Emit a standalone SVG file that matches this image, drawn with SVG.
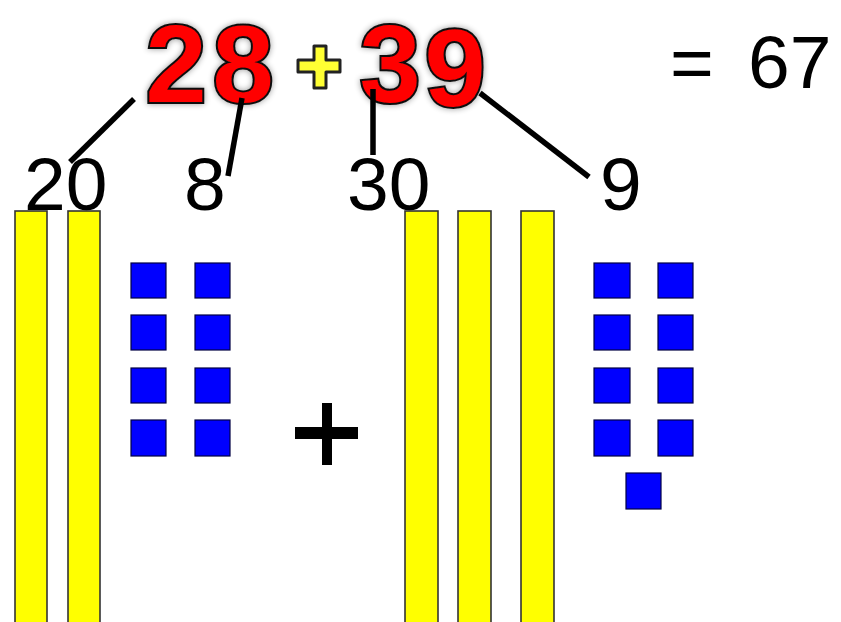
<svg xmlns="http://www.w3.org/2000/svg" width="841" height="622" viewBox="0 0 841 622">
<defs>
<style>
.bar{fill:#ffff00;stroke:#333;stroke-width:1.6}
.cube{fill:#0000ff;stroke:#000044;stroke-width:1.2}
.num{font-family:"Liberation Sans",Arial,sans-serif;font-size:75px;fill:#000}
.hand{font-family:"Liberation Sans",Arial,sans-serif;font-weight:bold;font-size:110px;fill:#ff0000;stroke:#111;stroke-width:4;paint-order:stroke;text-anchor:middle;filter:url(#sh)}
.conn{stroke:#000;stroke-width:5.5;fill:none}
</style>
<filter id="sh" x="-50%" y="-50%" width="200%" height="200%">
<feGaussianBlur in="SourceAlpha" stdDeviation="3" result="b"/>
<feComponentTransfer in="b" result="c"><feFuncA type="linear" slope="0.4"/></feComponentTransfer>
<feMerge><feMergeNode in="c"/><feMergeNode in="SourceGraphic"/></feMerge>
</filter>
</defs>
<rect width="841" height="622" fill="#fff"/>
<g id="title">
<text class="hand" x="176" y="102">2</text>
<text class="hand" x="243" y="102">8</text>
<text class="hand" x="390" y="102">3</text>
<text class="hand" x="455" y="106">9</text>
<path d="M314 46 L326 46 L326 60 L340 60 L340 72 L326 72 L326 88 L314 88 L314 72 L298 72 L298 60 L314 60 Z" fill="#ffff33" stroke="#222" stroke-width="3" stroke-linejoin="round"/>
</g>
<g id="result"><text class="num" x="670" y="88">=</text><text class="num" x="748" y="88">67</text></g>
<g id="labels">
<text class="num" x="24" y="210">20</text>
<text class="num" x="184" y="210">8</text>
<text class="num" x="347" y="210">30</text>
<text class="num" x="600" y="210">9</text>
</g>
<g id="connectors">
<line class="conn" x1="134" y1="99" x2="70" y2="162"/>
<line class="conn" x1="242" y1="98" x2="228" y2="176"/>
<line class="conn" x1="373" y1="89" x2="373" y2="155" stroke-width="6"/>
<line class="conn" x1="480" y1="93" x2="589" y2="177"/>
</g>
<g id="tens-left">
<rect class="bar" x="15" y="211" width="32" height="420"/>
<rect class="bar" x="68" y="211" width="32" height="420"/>
</g>
<g id="ones-left">
<rect class="cube" x="131" y="263" width="35" height="35"/><rect class="cube" x="195" y="263" width="35" height="35"/>
<rect class="cube" x="131" y="315" width="35" height="35"/><rect class="cube" x="195" y="315" width="35" height="35"/>
<rect class="cube" x="131" y="368" width="35" height="35"/><rect class="cube" x="195" y="368" width="35" height="35"/>
<rect class="cube" x="131" y="420" width="35" height="36"/><rect class="cube" x="195" y="420" width="35" height="36"/>
</g>
<g id="plus">
<rect x="322" y="403" width="10" height="62" fill="#000"/>
<rect x="295" y="427" width="63" height="12" fill="#000"/>
</g>
<g id="tens-right">
<rect class="bar" x="405" y="211" width="33" height="420"/>
<rect class="bar" x="458" y="211" width="33" height="420"/>
<rect class="bar" x="521" y="211" width="33" height="420"/>
</g>
<g id="ones-right">
<rect class="cube" x="594" y="263" width="36" height="35"/><rect class="cube" x="658" y="263" width="35" height="35"/>
<rect class="cube" x="594" y="315" width="36" height="35"/><rect class="cube" x="658" y="315" width="35" height="35"/>
<rect class="cube" x="594" y="368" width="36" height="35"/><rect class="cube" x="658" y="368" width="35" height="35"/>
<rect class="cube" x="594" y="420" width="36" height="36"/><rect class="cube" x="658" y="420" width="35" height="36"/>
<rect class="cube" x="626" y="473" width="35" height="36"/>
</g>
</svg>
